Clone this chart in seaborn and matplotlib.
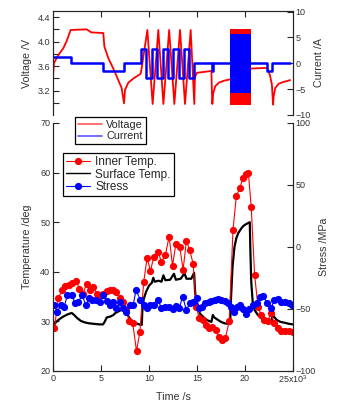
import numpy as np
import pandas as pd
import seaborn as sns
import matplotlib.pyplot as plt
from matplotlib.lines import Line2D

# ---- top panel: voltage (V) and current (A) vs time (x10^3 s) ----
volt_t = [0.0, 0.1, 0.55, 1.07, 1.4, 1.84, 3.5, 4.0, 5.24, 5.35, 5.76, 6.28, 6.8, 7.15,
          7.4, 7.5, 7.85, 8.4, 9.1, 9.17, 9.83, 10.38, 10.97, 11.5, 12.1, 12.64, 13.23,
          13.75, 14.34, 14.72, 14.78, 15.0, 16.5, 16.55, 16.6, 16.68, 16.9, 17.3, 17.8,
          18.37, 18.44, 20.59, 20.7, 22.3, 22.6, 22.8, 22.92, 23.0, 23.15, 23.5, 24.0, 24.7]
volt_v = [3.43, 3.65, 3.78, 3.89, 4.0, 4.19, 4.2, 4.15, 4.14, 3.92, 3.73, 3.56, 3.37, 3.24,
          2.99, 3.21, 3.33, 3.4, 3.47, 3.5, 4.19, 2.98, 4.19, 2.98, 4.19, 2.98, 4.19,
          2.98, 4.19, 2.98, 3.42, 3.49, 3.52, 3.2, 2.98, 3.15, 3.27, 3.33, 3.36,
          3.38, 3.38, 3.56, 3.56, 3.57, 3.45, 3.3, 2.97, 3.12, 3.24, 3.31, 3.34, 3.37]

curr_t = [0.0, 1.9, 5.2, 7.4, 9.17, 9.69, 10.28, 10.8, 11.42, 11.95, 12.53, 13.13, 13.68,
          14.2, 14.69, 16.53, 16.7, 22.33, 22.78, 24.7]
curr_i = [1.3, 0.0, -1.4, 0.0, 2.7, -2.9, 2.7, -2.9, 2.7, -2.9, 2.7, -2.9, 2.7,
          -2.9, 0.0, -1.5, 0.0, -1.5, 0.0, 0.0]

# dense cycling block (too fast to resolve: drawn as its envelope)
block_t = [18.44, 20.59]
block_v = [2.96, 4.2]
block_i = [-5.8, 5.6]

# ---- bottom panel: temperatures (deg) and stress (MPa) ----
inner_t = [0.15, 0.55, 0.95, 1.3, 1.65, 2.0, 2.4, 2.75, 3.1, 3.5, 3.85, 4.2, 4.55, 4.9,
           5.25, 5.6, 5.95, 6.3, 6.6, 6.95, 7.3, 7.65, 7.95, 8.3, 8.7, 9.05, 9.45, 9.8,
           10.15, 10.5, 10.95, 11.3, 11.7, 12.1, 12.45, 12.8, 13.2, 13.55, 13.9, 14.25,
           14.6, 14.9, 15.25, 15.6, 15.9, 16.25, 16.6, 16.95, 17.25, 17.6, 17.95, 18.35,
           18.75, 19.1, 19.45, 19.8, 20.1, 20.35, 20.65, 21.0, 21.35, 21.7, 22.0, 22.35,
           22.7, 23.05, 23.4, 23.8, 24.2, 24.6, 25.0]
inner_T = [28.6, 34.7, 36.3, 37.1, 37.3, 37.7, 38.2, 36.6, 35.6, 37.5, 36.4, 37.0, 35.6, 35.3,
           35.6, 36.2, 36.4, 36.3, 36.0, 34.8, 34.0, 32.3, 30.0, 29.7, 24.0, 27.9, 38.0, 42.8,
           40.2, 43.0, 44.0, 42.0, 43.4, 47.1, 41.2, 45.7, 45.1, 40.4, 46.3, 44.3,
           41.6, 33.0, 30.6, 30.3, 29.3, 28.6, 28.8, 28.3, 26.9, 26.3, 26.6, 30.0,
           48.5, 55.3, 56.8, 59.0, 59.7, 60.0, 53.0, 39.4, 33.0, 31.2, 30.3, 30.0,
           31.6, 29.6, 28.7, 28.1, 28.1, 28.0, 27.8]

surf_t = [0.0, 0.2, 0.5, 1.0, 1.5, 1.95, 2.2, 2.5, 2.9, 3.3, 3.8, 4.3, 4.8, 5.2, 5.35, 5.6,
          6.0, 6.3, 6.5, 6.9, 7.2, 7.5, 7.6, 7.8, 8.1, 8.5, 9.0, 9.25, 9.3, 9.45, 9.7, 10.0,
          10.3, 10.45, 10.6, 11.0, 11.3, 11.5, 11.7, 12.2, 12.6, 12.8, 13.3, 13.7, 13.9,
          14.4, 14.7, 14.8, 14.95, 15.3, 15.7, 16.0, 16.5, 16.65, 16.8, 17.1, 17.5, 17.9,
          18.3, 18.45, 18.55, 18.7, 18.9, 19.1, 19.3, 19.6, 19.8, 20.1, 20.5, 20.55, 20.65,
          20.8, 21.0, 21.3, 21.7, 22.0, 22.4, 22.8, 22.85, 23.0, 23.3, 23.7, 24.2, 24.6, 25.0]
surf_T = [28.8, 29.6, 30.2, 30.9, 31.4, 31.7, 31.3, 30.7, 30.1, 29.8, 29.6, 29.5, 29.4, 29.4,
          29.8, 30.8, 31.0, 31.3, 31.7, 32.1, 32.4, 33.1, 32.5, 31.2, 30.3, 29.7, 29.4, 29.3,
          32.0, 34.5, 36.0, 37.2, 37.8, 38.8, 38.0, 38.2, 38.0, 39.3, 38.3, 38.4, 39.6, 38.4,
          38.6, 39.7, 38.6, 38.6, 39.8, 36.0, 33.8, 31.6, 30.8, 30.3, 29.9, 31.3, 30.8, 30.4,
          29.9, 29.6, 29.5, 29.5, 35.0, 41.0, 45.0, 46.8, 47.8, 48.7, 49.2, 49.6, 50.0, 45.0,
          38.0, 34.0, 32.3, 31.4, 30.6, 30.3, 30.0, 29.9, 31.8, 31.0, 30.3, 29.9, 29.7, 29.5,
          29.4]

stress_t = [0.1, 0.45, 0.8, 1.15, 1.5, 1.95, 2.3, 2.65, 3.05, 3.4, 3.8, 4.1, 4.5, 4.85, 5.25,
            5.6, 5.95, 6.3, 6.6, 7.0, 7.3, 7.65, 8.0, 8.35, 8.65, 9.1, 9.45, 9.8, 10.1, 10.5,
            10.95, 11.3, 11.65, 12.05, 12.45, 12.8, 13.15, 13.5, 13.9, 14.25, 14.6, 14.95,
            15.25, 15.55, 15.85, 16.2, 16.5, 16.85, 17.2, 17.55, 17.9, 18.25, 18.55, 18.85,
            19.15, 19.45, 19.8, 20.1, 20.4, 20.8, 21.2, 21.55, 21.9, 22.3, 22.7, 23.05, 23.4,
            23.75, 24.15, 24.55, 24.9]
stress_s = [-46.8, -52.2, -46.8, -48.7, -38.7, -38.7, -45.4, -44.1, -38.7, -46.8, -41.4,
            -42.7, -42.5, -44.1, -38.7, -43.6, -46.8, -44.1, -49.5, -44.0, -49.5, -52.2,
            -46.8, -46.8, -34.7, -42.7, -46.8, -49.5, -46.8, -46.8, -42.7, -49.5, -48.2,
            -48.2, -50.3, -47.6, -49.5, -40.0, -51.0, -45.0, -44.0, -41.4, -49.5, -48.0,
            -45.4, -44.6, -43.5, -42.7, -42.2, -42.7, -43.5, -45.4, -48.0, -52.2, -48.5,
            -46.8, -50.0, -54.0, -50.0, -46.8, -45.4, -40.0, -39.5, -45.4, -49.5, -42.7,
            -42.2, -44.0, -44.6, -45.5, -46.8]

time_ticks = [0, 5, 10, 15, 20, 25]
time_labels = ["0", "5", "10", "15", "20", "25x10$^3$"]

sns.set_style("ticks")
plt.rcParams["font.family"] = ["Liberation Sans", "DejaVu Sans"]
plt.rcParams["mathtext.fontset"] = "custom"
plt.rcParams["mathtext.rm"] = "Liberation Sans"
plt.rcParams["mathtext.default"] = "regular"

TXT = "#333333"
TICK_FS = 6.5
LAB_FS = 7.7

fig = plt.figure(figsize=(3.37, 4.05), dpi=100)
ax_v = fig.add_axes([53 / 337, 1 - 115 / 405, 240 / 337, 104 / 405])
ax_i = ax_v.twinx()
ax_t = fig.add_axes([53 / 337, 1 - 371 / 405, 240 / 337, 248 / 405])
ax_s = ax_t.twinx()

# top panel
volt = pd.DataFrame({"t": volt_t, "v": volt_v})
curr = pd.DataFrame({"t": curr_t, "i": curr_i})
sns.lineplot(data=volt, x="t", y="v", ax=ax_v, color="red", lw=1.3,
             estimator=None, sort=False)
ax_v.fill_between(block_t, block_v[0], block_v[1], color="red", lw=0)
sns.lineplot(data=curr, x="t", y="i", ax=ax_i, color="blue", lw=1.8,
             estimator=None, sort=False, drawstyle="steps-post")
ax_i.fill_between(block_t, block_i[0], block_i[1], color="blue", lw=0)

ax_v.set_xlim(0, 25)
ax_v.set_ylim(2.8, 4.5)
ax_i.set_ylim(-10, 10.1)
ax_v.set_yticks([3.2, 3.6, 4.0, 4.4])
ax_v.set_yticks([3.0, 3.4, 3.8, 4.2], minor=True)
ax_i.set_yticks([-10, -5, 0, 5, 10])
ax_v.set_xticks([5, 10, 15, 20])
ax_v.xaxis.set_ticks_position("top")
ax_v.tick_params(axis="x", labeltop=False, labelbottom=False)
ax_v.set_xlabel("")
ax_v.set_ylabel("Voltage /V", fontsize=LAB_FS, color=TXT, labelpad=4)
ax_i.set_ylabel("Current /A", fontsize=LAB_FS, color=TXT, labelpad=2)
for a in (ax_v, ax_i):
    a.spines["bottom"].set_visible(False)
    a.tick_params(direction="in", length=4.5, width=0.8, labelsize=TICK_FS,
                  labelcolor=TXT, which="both", pad=2)
    for s in a.spines.values():
        s.set_linewidth(0.8)

# bottom panel
inner = pd.DataFrame({"t": inner_t, "T": inner_T})
surf = pd.DataFrame({"t": surf_t, "T": surf_T})
stress = pd.DataFrame({"t": stress_t, "S": stress_s})
sns.lineplot(data=surf, x="t", y="T", ax=ax_t, color="black", lw=1.6,
             estimator=None, sort=False)
sns.lineplot(data=inner, x="t", y="T", ax=ax_t, color="red", lw=0.8, marker="o",
             markersize=5.2, markeredgewidth=0, estimator=None, sort=False)
sns.lineplot(data=stress, x="t", y="S", ax=ax_s, color="blue", lw=0.8, marker="o",
             markersize=5.2, markeredgewidth=0, estimator=None, sort=False)

ax_t.set_xlim(0, 25)
ax_t.set_ylim(20, 70)
ax_s.set_ylim(-100, 100)
ax_t.set_yticks([20, 30, 40, 50, 60, 70])
ax_s.set_yticks([-100, -50, 0, 50, 100])
ax_t.set_xticks(time_ticks)
ax_t.set_xticklabels(time_labels)
ax_t.set_xlabel("Time /s", fontsize=LAB_FS, color=TXT, labelpad=5)
ax_t.set_ylabel("Temperature /deg", fontsize=LAB_FS, color=TXT, labelpad=6)
ax_s.set_ylabel("Stress /MPa", fontsize=LAB_FS, color=TXT, labelpad=2)
for a in (ax_t, ax_s):
    a.spines["top"].set_visible(False)
    a.tick_params(direction="in", length=4.5, width=0.8, labelsize=TICK_FS,
                  labelcolor=TXT, pad=2)
    for s in a.spines.values():
        s.set_linewidth(0.8)

# legends
h1 = [Line2D([], [], color="red", lw=1.3, alpha=0.6),
      Line2D([], [], color="blue", lw=1.3, alpha=0.6)]
leg1 = fig.legend(h1, ["Voltage", "Current"], loc="upper left",
                  bbox_to_anchor=(75 / 337, 1 - 117 / 405), fontsize=7.8,
                  frameon=True, fancybox=False, edgecolor="black", framealpha=1,
                  borderpad=0.25, handlelength=2.2, handletextpad=0.45,
                  labelspacing=0.15, borderaxespad=0)
leg1.get_frame().set_linewidth(0.9)

h2 = [Line2D([], [], color="red", lw=0.8, marker="o", markersize=5.2, markeredgewidth=0),
      Line2D([], [], color="black", lw=1.0),
      Line2D([], [], color="blue", lw=0.8, marker="o", markersize=5.2, markeredgewidth=0)]
leg2 = fig.legend(h2, ["Inner Temp.", "Surface Temp.", "Stress"], loc="upper left",
                  bbox_to_anchor=(63 / 337, 1 - 153 / 405), fontsize=8.5,
                  frameon=True, fancybox=False, edgecolor="black", framealpha=1,
                  borderpad=0.25, handlelength=2.0, handletextpad=0.5,
                  labelspacing=0.05, borderaxespad=0)
leg2.get_frame().set_linewidth(0.9)

fig.savefig("out.png", dpi=100)
